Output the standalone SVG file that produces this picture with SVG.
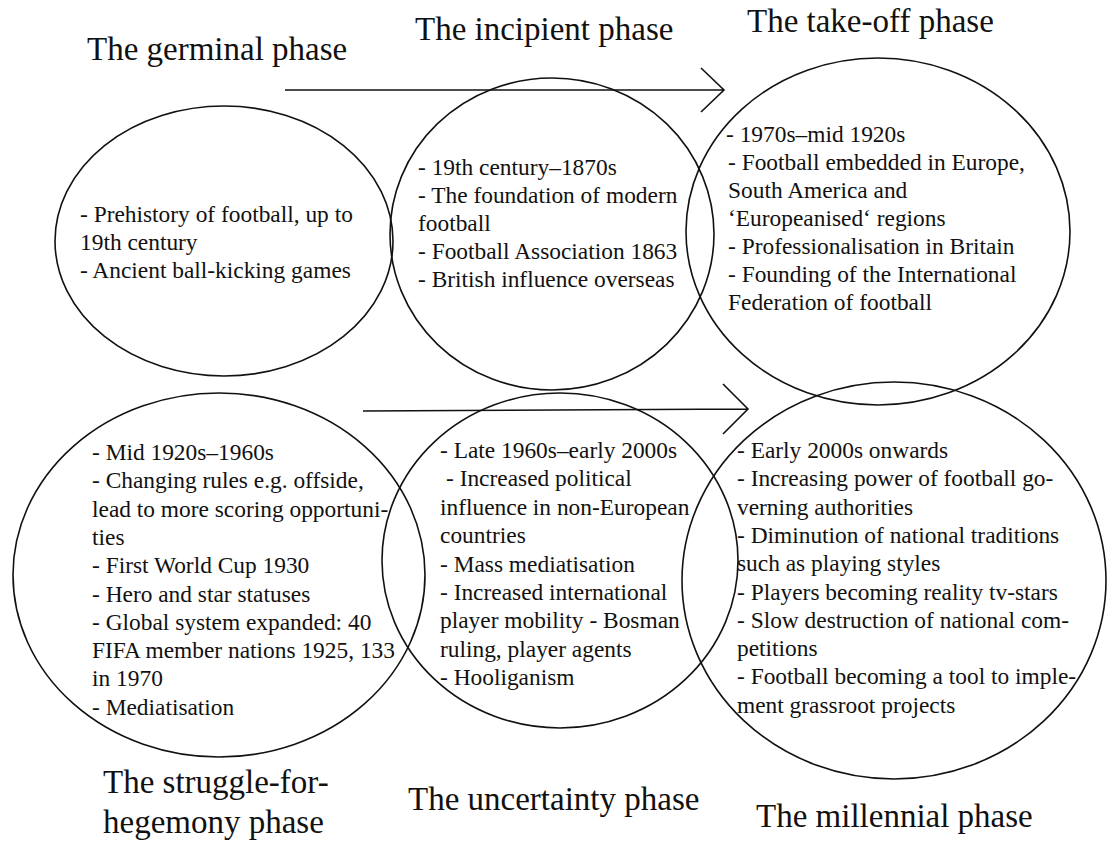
<svg xmlns="http://www.w3.org/2000/svg" width="1108" height="843" viewBox="0 0 1108 843">
<style>
.e{fill:none;stroke:#111;stroke-width:1.6}
.t{font-family:"Liberation Serif","Times New Roman",serif;font-size:33px;fill:#111}
.b{font-family:"Liberation Serif","Times New Roman",serif;font-size:23.4px;fill:#111}
.c{fill:none;stroke:#111;stroke-width:1.6}
</style>
<rect width="1108" height="843" fill="#fff"/>
<g id="germinal">
<ellipse class="e" cx="224" cy="241" rx="169" ry="135"/>
<text class="t" x="87" y="60">The germinal phase</text>
<text class="b"><tspan x="80" y="222">- Prehistory of football, up to</tspan><tspan x="80" y="250">19th century</tspan><tspan x="80" y="278">- Ancient ball-kicking games</tspan></text>
</g>
<g id="incipient">
<ellipse class="e" cx="552" cy="234" rx="162" ry="156"/>
<text class="t" x="415" y="40">The incipient phase</text>
<text class="b"><tspan x="418" y="175">- 19th century–1870s</tspan><tspan x="418" y="203">- The foundation of modern</tspan><tspan x="418" y="231">football</tspan><tspan x="418" y="259">- Football Association 1863</tspan><tspan x="418" y="287">- British influence overseas</tspan></text>
</g>
<g id="takeoff">
<ellipse class="e" cx="878" cy="231.5" rx="192" ry="173.5"/>
<text class="t" x="747" y="32">The take-off phase</text>
<text class="b"><tspan x="726" y="142">- 1970s–mid 1920s</tspan><tspan x="728" y="170">- Football embedded in Europe,</tspan><tspan x="728" y="198">South America and</tspan><tspan x="728" y="226">‘Europeanised‘ regions</tspan><tspan x="728" y="254">- Professionalisation in Britain</tspan><tspan x="728" y="282">- Founding of the International</tspan><tspan x="728" y="310">Federation of football</tspan></text>
</g>
<g id="struggle">
<ellipse class="e" cx="219" cy="575" rx="206" ry="182"/>
<text class="t"><tspan x="103" y="793">The struggle-for-</tspan><tspan x="103" y="833">hegemony phase</tspan></text>
<text class="b"><tspan x="92" y="460">- Mid 1920s–1960s</tspan><tspan x="92" y="488.3">- Changing rules e.g. offside,</tspan><tspan x="92" y="516.6">lead to more scoring opportuni-</tspan><tspan x="92" y="544.9">ties</tspan><tspan x="92" y="573.2">- First World Cup 1930</tspan><tspan x="92" y="601.5">- Hero and star statuses</tspan><tspan x="92" y="629.8">- Global system expanded: 40</tspan><tspan x="92" y="658.1">FIFA member nations 1925, 133</tspan><tspan x="92" y="686.4">in 1970</tspan><tspan x="92" y="714.7">- Mediatisation</tspan></text>
</g>
<g id="uncertainty">
<ellipse class="e" cx="560" cy="560.5" rx="178" ry="167.5"/>
<text class="t" x="408" y="810">The uncertainty phase</text>
<text class="b"><tspan x="440" y="458">- Late 1960s–early 2000s</tspan><tspan x="446" y="486.4">- Increased political</tspan><tspan x="440" y="514.8">influence in non-European</tspan><tspan x="440" y="543.2">countries</tspan><tspan x="440" y="571.6">- Mass mediatisation</tspan><tspan x="440" y="600">- Increased international</tspan><tspan x="440" y="628.4">player mobility - Bosman</tspan><tspan x="440" y="656.8">ruling, player agents</tspan><tspan x="440" y="685.2">- Hooliganism</tspan></text>
</g>
<g id="millennial">
<ellipse class="e" cx="894" cy="580.5" rx="212" ry="198.5"/>
<text class="t" x="756" y="827">The millennial phase</text>
<text class="b"><tspan x="737" y="458">- Early 2000s onwards</tspan><tspan x="737" y="486.3">- Increasing power of football go-</tspan><tspan x="737" y="514.6">verning authorities</tspan><tspan x="737" y="542.9">- Diminution of national traditions</tspan><tspan x="737" y="571.2">such as playing styles</tspan><tspan x="737" y="599.5">- Players becoming reality tv-stars</tspan><tspan x="737" y="627.8">- Slow destruction of national com-</tspan><tspan x="737" y="656.1">petitions</tspan><tspan x="737" y="684.4">- Football becoming a tool to imple-</tspan><tspan x="737" y="712.7">ment grassroot projects</tspan></text>
</g>
<g id="connectors">
<path class="c" d="M285 90 H724 M701 68 L724 90 L701 112"/>
<path class="c" d="M363 411 L748 409 M723 384 L748 409 L723 434"/>
</g>
</svg>
